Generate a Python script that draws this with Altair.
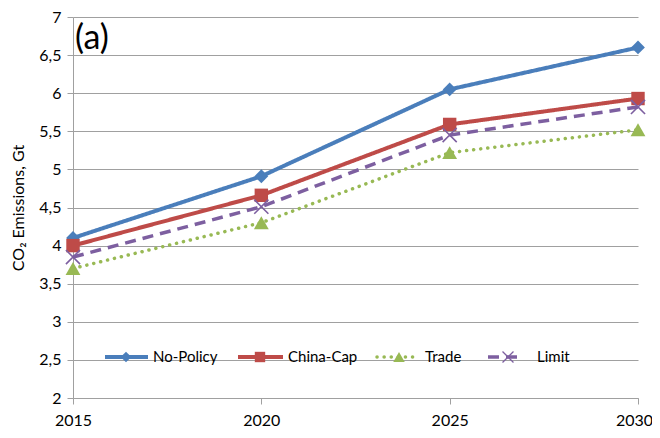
import altair as alt
import pandas as pd

years = [2015, 2020, 2025, 2030]
series_names = ["No-Policy", "China-Cap", "Trade", "Limit"]
no_policy = [4.10, 4.91, 6.05, 6.60]
china_cap = [4.00, 4.66, 5.59, 5.93]
trade = [3.70, 4.30, 5.22, 5.52]
limit = [3.85, 4.51, 5.45, 5.82]
y_ticks = [2, 2.5, 3, 3.5, 4, 4.5, 5, 5.5, 6, 6.5, 7]

values = {"No-Policy": no_policy, "China-Cap": china_cap, "Trade": trade, "Limit": limit}
rows = []
for s in series_names:
    for yr, v in zip(years, values[s]):
        rows.append({"year": yr, "value": v, "series": s})
df = pd.DataFrame(rows)

FONT = "Lato"
XPATH = "M-1,-1L1,1M-1,1L1,-1"

styles = {
    "No-Policy": dict(color="#4A7EBB", width=4, dash=[1, 0], shape="diamond", size=190, filled=True, cap="butt"),
    "China-Cap": dict(color="#BE4B48", width=4, dash=[1, 0], shape="square", size=180, filled=True, cap="butt"),
    "Trade": dict(color="#98B954", width=3.5, dash=[0.1, 7], shape="triangle-up", size=220, filled=True, cap="round"),
    "Limit": dict(color="#7D5FA0", width=3.5, dash=[11, 7], shape=XPATH, size=200, filled=False, cap="butt"),
}

x_scale = alt.Scale(domain=[2015, 2030], nice=False, zero=False)
y_scale = alt.Scale(domain=[2, 7], nice=False, zero=False)

x_axis = alt.Axis(values=years, format="d", grid=False, title=None, labelFont=FONT, labelFontSize=16,
                  labelColor="#000000", domainColor="#A0A0A0", tickColor="#A0A0A0", tickSize=6,
                  labelPadding=8, labelFlush=False,
                  labelOffset={"condition": {"test": "datum.value == 2030", "value": -4}, "value": 0})
y_axis = alt.Axis(values=y_ticks, grid=True, gridColor="#A0A0A0", title="CO\u2082 Emissions, Gt",
                  titleFont=FONT, titleFontSize=16, titleFontWeight="normal", titleColor="#000000",
                  labelFont=FONT, labelFontSize=16, labelColor="#000000", domainColor="#A0A0A0",
                  tickColor="#A0A0A0", tickSize=6, labelPadding=6, titlePadding=12,
                  labelExpr="replace(toString(datum.value), '.', ',')")

enc_x = alt.X("year:Q", scale=x_scale, axis=x_axis)
enc_y = alt.Y("value:Q", scale=y_scale, axis=y_axis)

layers = []
for s in series_names:
    st = styles[s]
    base = alt.Chart(df).transform_filter(alt.datum.series == s)
    line = base.mark_line(color=st["color"], strokeWidth=st["width"], strokeDash=st["dash"],
                          strokeCap=st["cap"]).encode(x=enc_x, y=enc_y)
    if st["filled"]:
        pt = base.mark_point(shape=st["shape"], size=st["size"], filled=True, color=st["color"], opacity=1)
    else:
        pt = base.mark_point(shape=st["shape"], size=st["size"], filled=False, color=st["color"],
                             strokeWidth=1.6, opacity=1)
    pt = pt.encode(x=enc_x, y=enc_y)
    layers += [line, pt]

# Manual legend (inside the plot area)
legend_pos = {
    "No-Policy": (32, 75, 53, 80),
    "China-Cap": (165, 210, 187, 215),
    "Trade": (304, 345, 326, 352),
    "Limit": (415, 449, 435, 464),
}
LY = 340
for s in series_names:
    st = styles[s]
    x0, x1, xm, xt = legend_pos[s]
    one = pd.DataFrame({"series": [s]})
    layers.append(alt.Chart(one).mark_rule(color=st["color"], strokeWidth=st["width"],
                                           strokeDash=st["dash"], strokeCap=st["cap"]).encode(
        x=alt.value(x0), x2=alt.value(x1), y=alt.value(LY)))
    if st["filled"]:
        mk = alt.Chart(one).mark_point(shape=st["shape"], size=st["size"] * 0.6, filled=True,
                                       color=st["color"], opacity=1)
    else:
        mk = alt.Chart(one).mark_point(shape=st["shape"], size=st["size"] * 0.6, filled=False,
                                       color=st["color"], strokeWidth=1.3, opacity=1)
    layers.append(mk.encode(x=alt.value(xm), y=alt.value(LY)))
    layers.append(alt.Chart(one).mark_text(align="left", baseline="middle", font=FONT, fontSize=15,
                                           color="#000000").encode(
        x=alt.value(xt), y=alt.value(LY), text="series:N"))

label_df = pd.DataFrame({"label": ["(a)"]})
layers.append(alt.Chart(label_df).mark_text(align="left", baseline="middle", font=FONT, fontSize=34,
                                            color="#000000").encode(
    x=alt.value(2), y=alt.value(22), text="label:N"))

chart = alt.layer(*layers).properties(
    width=565, height=381,
    autosize=alt.AutoSizeParams(type="none"),
    padding={"left": 65, "top": 9, "right": 14, "bottom": 32},
    background="#ffffff",
).configure_view(stroke=None)

chart.save("out.html", embed_options={"renderer": "svg", "actions": False})
